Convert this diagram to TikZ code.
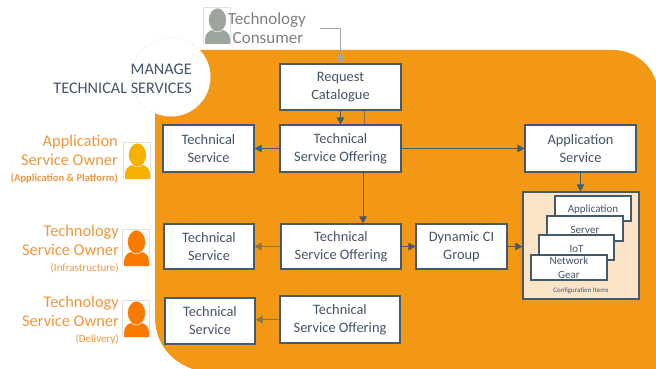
\documentclass[tikz,border=0pt]{standalone}
\usepackage{fontspec}
\setmainfont{Carlito}
\usetikzlibrary{arrows.meta,calc}
\definecolor{orangebg}{HTML}{F29814}
\definecolor{boxline}{HTML}{44596A}
\definecolor{txt}{HTML}{44546A}
\definecolor{peach}{HTML}{FCE4C6}
\definecolor{ownertxt}{HTML}{F0963A}
\definecolor{gold}{HTML}{F5B000}
\definecolor{deep}{HTML}{F97A00}
\definecolor{greyp}{HTML}{9CA69C}
\definecolor{greytxt}{HTML}{7F7F7F}
\definecolor{muted}{HTML}{8A7440}
\tikzset{
  bx/.style={draw=boxline,line width=1.2pt,fill=white,text=txt,align=center,inner sep=0pt,font=\fontsize{14.4}{18}\selectfont,execute at begin node={\rule{0pt}{14.5pt}}},
  stackbx/.style={draw=boxline,line width=1.2pt,fill=white,text=txt,align=center,inner sep=0pt,font=\fontsize{11}{13.5}\selectfont,execute at begin node={\rule{0pt}{10pt}}},
  conn/.style={draw=boxline,line width=.8pt,-{Triangle[length=7pt,width=7.5pt]}},
  mutedconn/.style={conn,draw=muted,line width=1pt},
  ownertext/.style={text=ownertxt,align=right,anchor=east,inner sep=0pt,font=\fontsize{16.4}{19.5}\selectfont},
}
% #1 colour, #2 x-left, #3 y-top (person icon 25 x 35)
\newcommand{\personicon}[3]{%
  \fill[white] (#2-1.5,#3-1.5) rectangle (#2+25,#3+35);
  \draw[black!12,line width=.3pt] (#2-1.5,#3+35) -- (#2-1.5,#3-1.5) -- (#2+25,#3-1.5) -- (#2+25,#3+35);
  \fill[#1] (#2,#3+35) -- (#2,#3+30) .. controls (#2,#3+24) and (#2+5,#3+21) .. (#2+9,#3+20.5)
     -- (#2+16,#3+20.5) .. controls (#2+20,#3+21) and (#2+25,#3+24) .. (#2+25,#3+30) -- (#2+25,#3+35) -- cycle;
  \draw[white,line width=.5pt,fill=#1] (#2+12.5,#3+11) ellipse [x radius=9pt,y radius=12pt];
}
\begin{document}
\begin{tikzpicture}[x=1pt,y=-1pt]
\useasboundingbox (0,0) rectangle (656,369);
% panel
\fill[orangebg] (155,369) -- (155,50) -- (613,50) .. controls (638,50) and (658,70) .. (658,95)
   -- (658,369) -- (192,369) .. controls (170,361) and (155,343) .. (155,318) -- cycle;
\fill[white] (155,318) .. controls (155,343) and (170,361) .. (192,369) -- (150,369) -- (150,318) -- cycle;
% circle
\draw[black!18,densely dotted,line width=.4pt,fill=white] (171,77) circle [radius=39.5];
\node[text=txt,align=right,anchor=east,inner sep=0pt,font=\fontsize{16.2}{19.5}\selectfont] (title) at (192,79) {MANAGE\\TECHNICAL SERVICES};
% people
\personicon{greyp}{205}{9}
\personicon{gold}{125}{144}
\personicon{deep}{124}{231}
\personicon{deep}{124}{302}
\node[text=greytxt,align=center,inner sep=0pt,font=\fontsize{17}{19.5}\selectfont] (consumer) at (267,28) {Technology\\\hspace*{2pt}Consumer};
\coordinate (cstart) at (320,28);
\node[ownertext] (own1) at (118,159) {Application\\Service Owner\\[-3.5pt]{\fontsize{10.6}{10}\selectfont\bfseries (Application \& Platform)}};
\node[ownertext] (own2) at (119,249) {Technology\\Service Owner\\[-3.5pt]{\fontsize{11}{10}\selectfont (Infrastructure)}};
\node[ownertext] (own3) at (119,320) {Technology\\Service Owner\\[-3.5pt]{\fontsize{11}{10}\selectfont (Delivery)}};
% boxes
\node[bx,minimum width=121pt,minimum height=46pt] (req) at (340.5,87) {Request\\Catalogue};
\node[bx,minimum width=121pt,minimum height=47pt] (tso1) at (340.5,148.5) {Technical\\Service Offering};
\node[bx,minimum width=91pt,minimum height=47pt] (ts1) at (208.5,148.5) {Technical\\Service};
\node[bx,minimum width=111pt,minimum height=47pt] (app) at (580.5,148.5) {Application\\Service};
\node[bx,minimum width=120pt,minimum height=45pt] (tso2) at (341,246.5) {Technical\\Service Offering};
\node[bx,minimum width=90pt,minimum height=45pt] (ts2) at (209,246.5) {Technical\\Service};
\node[bx,minimum width=91pt,minimum height=45pt] (dyn) at (461.5,246.5) {Dynamic CI\\Group};
\node[bx,minimum width=120pt,minimum height=47pt] (tso3) at (340,319.5) {Technical\\Service Offering};
\node[bx,minimum width=90pt,minimum height=46pt] (ts3) at (210,321) {Technical\\Service};
% config items
\node[draw=boxline,line width=1.2pt,fill=peach,minimum width=116pt,minimum height=107pt,inner sep=0pt] (ci) at (581,245.5) {};
\node[stackbx,minimum width=76pt,minimum height=25pt] (s1) at (593,208.5) {Application};
\node[stackbx,minimum width=76pt,minimum height=25pt] (s2) at (585,228.5) {Server};
\node[stackbx,minimum width=75pt,minimum height=25pt] (s3) at (576.5,247.5) {IoT};
\node[stackbx,minimum width=76pt,minimum height=25pt] (s4) at (569,267.5) {Network\\Gear};
\node[text=txt,inner sep=0pt,font=\fontsize{6.9}{8}\selectfont] (cilabel) at (581,291) {Configuration Items};
% connectors
\draw[conn,draw=gray!70] (cstart) -| (req.north);
\draw[conn] (req.south) -- (tso1.north);
\draw[conn] (tso1.east) -- (app.west);
\draw[conn] (tso1.west) -- (ts1.east);
\draw[mutedconn] (tso2.west) -- (ts2.east);
\draw[mutedconn] (tso3.west) -- (ts3.east |- tso3.west);
\draw[conn] (tso2.east) -- (dyn.west);
\draw[conn] (dyn.east) -- (ci.west |- dyn.east);
\draw[conn] (app.south) -- (ci.north -| app.south);
\draw[conn] (tso1.south -| 363,0) -- (tso2.north -| 363,0);
\draw[muted,line width=1pt] (req.south -| 364,0) -- (tso1.north -| 364,0);
\end{tikzpicture}
\end{document}
